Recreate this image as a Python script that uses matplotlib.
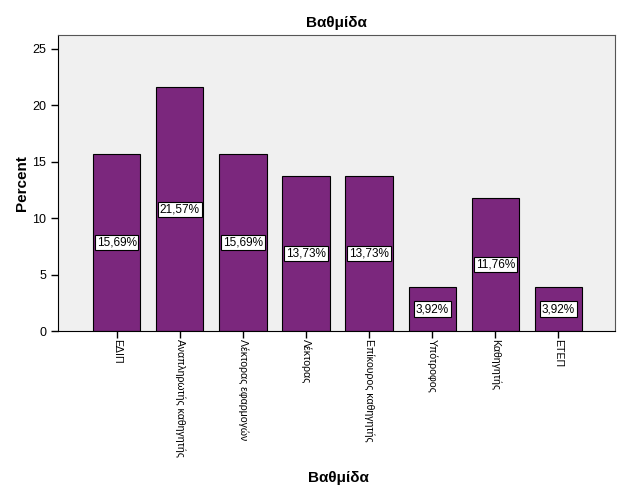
import matplotlib
matplotlib.use("Agg")
import matplotlib.pyplot as plt

categories = ["ΕΔΙΠ", "Αναπληρωτής καθηγητής", "Λέκτορας εφαρμογών", "Λέκτορας",
              "Επίκουρος καθηγητής", "Υπότροφος", "Καθηγητής", "ΕΤΕΠ"]
percent = [15.69, 21.57, 15.69, 13.73, 13.73, 3.92, 11.76, 3.92]
yticks = [0, 5, 10, 15, 20, 25]

plt.rcParams['font.family'] = ['Liberation Sans', 'DejaVu Sans']
fig = plt.figure(figsize=(6.26, 5.01), dpi=100)
ax = fig.add_axes([0.0927, 0.339, 0.889, 0.591])
ax.set_facecolor('#F0F0F0')
x = list(range(len(categories)))
ax.bar(x, percent, width=0.75, color='#7B277D', edgecolor='black', linewidth=0.8, zorder=2)
for xi, v in zip(x, percent):
    ax.text(xi, v / 2, f"{v:.2f}%".replace('.', ','), ha='center', va='center', fontsize=8.5,
            bbox=dict(boxstyle='square,pad=0.15', fc='white', ec='black', lw=0.8), zorder=3)
ax.set_xlim(-0.93, 7.89)
ax.set_ylim(0, 26.2)
ax.set_yticks(yticks)
ax.set_yticklabels([str(t) for t in yticks], fontsize=9)
ax.set_xticks(x)
ax.set_xticklabels(categories, rotation=-90, fontsize=7.6, va='top', ha='center')
ax.tick_params(direction='out', length=5, width=1, colors='black')
ax.tick_params(axis='x', pad=1)
for s in ax.spines.values():
    s.set_color('#555555')
ax.spines['left'].set_color('black')
ax.spines['bottom'].set_color('black')
ax.set_title("Βαθμίδα", fontsize=11, fontweight='bold', pad=6)
ax.set_ylabel("Percent", fontsize=11, fontweight='bold', labelpad=2)
fig.text(0.54, 0.045, "Βαθμίδα", fontsize=11, fontweight='bold', ha='center', va='center')
fig.savefig("out.png", dpi=100)
